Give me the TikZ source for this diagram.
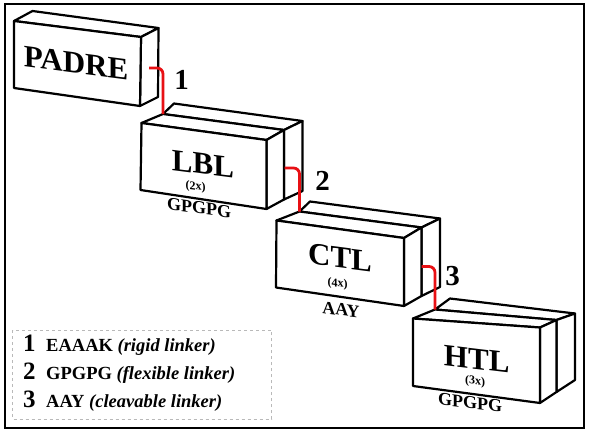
\documentclass[tikz,border=0pt]{standalone}
\usepackage{fontspec}
\setmainfont{Liberation Serif}
\definecolor{linkred}{RGB}{232,16,20}
\newcommand\drawdouble[1]{%
  \draw[face] (#1-MTL) -- (#1-BTL) -- (#1-BTR) -- (#1-MTR) -- cycle;
  \draw[face] (#1-MTR) -- (#1-BTR) -- (#1-BBR) -- (#1-MBR) -- cycle;
  \draw[face] (#1-TL) -- (#1-MTL) -- (#1-MTR) -- (#1-TR) -- cycle;
  \draw[face] (#1-TR) -- (#1-MTR) -- (#1-MBR) -- (#1-BR) -- cycle;
  \draw[face] (#1-TL) -- (#1-TR) -- (#1-BR) -- (#1-BL) -- cycle;}
\begin{document}
\begin{tikzpicture}[x=1pt,y=-1pt,
  face/.style={draw=black, fill=white, line width=2.2pt, line join=round},
  link/.style={draw=linkred, line width=2.8pt, rounded corners=6pt},
  title/.style={inner sep=0pt, font=\fontsize{31}{31}\selectfont\bfseries},
  mult/.style={inner sep=0pt, font=\fontsize{12}{12}\selectfont\bfseries},
  seq/.style={inner sep=0pt, font=\fontsize{18}{18}\selectfont\bfseries},
  num/.style={inner sep=0pt, font=\fontsize{29}{29}\selectfont\bfseries},
  legnum/.style={inner sep=0pt, anchor=base west, font=\fontsize{25}{25}\selectfont\bfseries},
  legtxt/.style={inner sep=0pt, anchor=base west, font=\fontsize{18.5}{18.5}\selectfont\bfseries}]
\useasboundingbox (0,0) rectangle (590,434);
\fill[white] (0,0) rectangle (590,434);
\draw[line width=2pt] (5,4) rectangle (584,428);

% PADRE
\coordinate (P-TL) at (14,21);   \coordinate (P-TR) at (141,37);
\coordinate (P-BR) at (140,106); \coordinate (P-BL) at (14,88);
\coordinate (P-BTL) at (32.5,11); \coordinate (P-BTR) at (158.5,28);
\coordinate (P-BBR) at (158,97);
\draw[face] (P-TL) -- (P-BTL) -- (P-BTR) -- (P-TR) -- cycle;
\draw[face] (P-TR) -- (P-BTR) -- (P-BBR) -- (P-BR) -- cycle;
\draw[face] (P-TL) -- (P-TR) -- (P-BR) -- (P-BL) -- cycle;
\node[title, yslant=-0.13] (padre) at (76,63) {PADRE};

% LBL
\coordinate (L-TL) at (141.5,123); \coordinate (L-TR) at (266.5,140);
\coordinate (L-BR) at (266.5,209); \coordinate (L-BL) at (140.5,190);
\coordinate (L-MTL) at (163,114);  \coordinate (L-MTR) at (284,130);
\coordinate (L-MBR) at (284,199.5);
\coordinate (L-BTL) at (174,103.5); \coordinate (L-BTR) at (302.5,121);
\coordinate (L-BBR) at (302.5,191);
\drawdouble{L}
\node[title, yslant=-0.13] (lbl) at (203,164) {LBL};
\node[mult, yslant=-0.13] (lblm) at (195.5,187) {(2x)};
\node[seq, yslant=-0.13] (lbls) at (199,208) {GPGPG};

% CTL
\coordinate (C-TL) at (276.5,220.5); \coordinate (C-TR) at (404,238);
\coordinate (C-BR) at (404,306);     \coordinate (C-BL) at (276,287.5);
\coordinate (C-MTL) at (299.5,211.5); \coordinate (C-MTR) at (421.5,227.5);
\coordinate (C-MBR) at (421.5,296);
\coordinate (C-BTL) at (310,201.5); \coordinate (C-BTR) at (440,218.5);
\coordinate (C-BBR) at (440,287);
\drawdouble{C}
\node[title, yslant=-0.13] (ctl) at (340,258) {CTL};
\node[mult, yslant=-0.13] (ctlm) at (337.5,284) {(4x)};
\node[seq, yslant=-0.13] (ctls) at (341,309.5) {AAY};

% HTL
\coordinate (H-TL) at (413,318.5); \coordinate (H-TR) at (540,327.5);
\coordinate (H-BR) at (540,403);   \coordinate (H-BL) at (413,386);
\coordinate (H-MTL) at (435,309.5); \coordinate (H-MTR) at (556.5,320);
\coordinate (H-MBR) at (556.5,392);
\coordinate (H-BTL) at (450,298.5); \coordinate (H-BTR) at (575,313.5);
\coordinate (H-BBR) at (575,380);
\drawdouble{H}
\node[title, yslant=-0.12] (htl) at (476.7,359) {HTL};
\node[mult, yslant=-0.12] (htlm) at (475,381.5) {(3x)};
\node[seq, yslant=-0.12] (htls) at (470,402.5) {GPGPG};

% linkers
\coordinate (k1) at (149,68);
\coordinate (k2) at (284.5,168);
\coordinate (k3) at (421.5,266.5);
\draw[link] (k1) -| (L-MTL);
\draw[link] (k2) -| (C-MTL);
\draw[link] (k3) -| (H-MTL);
\node[num] (n1) at (181.7,80) {1};
\node[num] (n2) at (322.5,181) {2};
\node[num] (n3) at (452.5,276) {3};

% legend
\draw[gray!55, dashed, line width=0.8pt] (12.5,330) rectangle (271.5,419);
\node[legnum] (l1) at (23,351.5) {1};
\node[legnum] (l2) at (23,379.5) {2};
\node[legnum] (l3) at (23,407) {3};
\node[legtxt] (t1) at (46,351.5) {EAAAK \textit{(rigid linker)}};
\node[legtxt] (t2) at (46,379.5) {GPGPG \textit{(flexible linker)}};
\node[legtxt] (t3) at (46,407) {AAY \textit{(cleavable linker)}};
\end{tikzpicture}
\end{document}
